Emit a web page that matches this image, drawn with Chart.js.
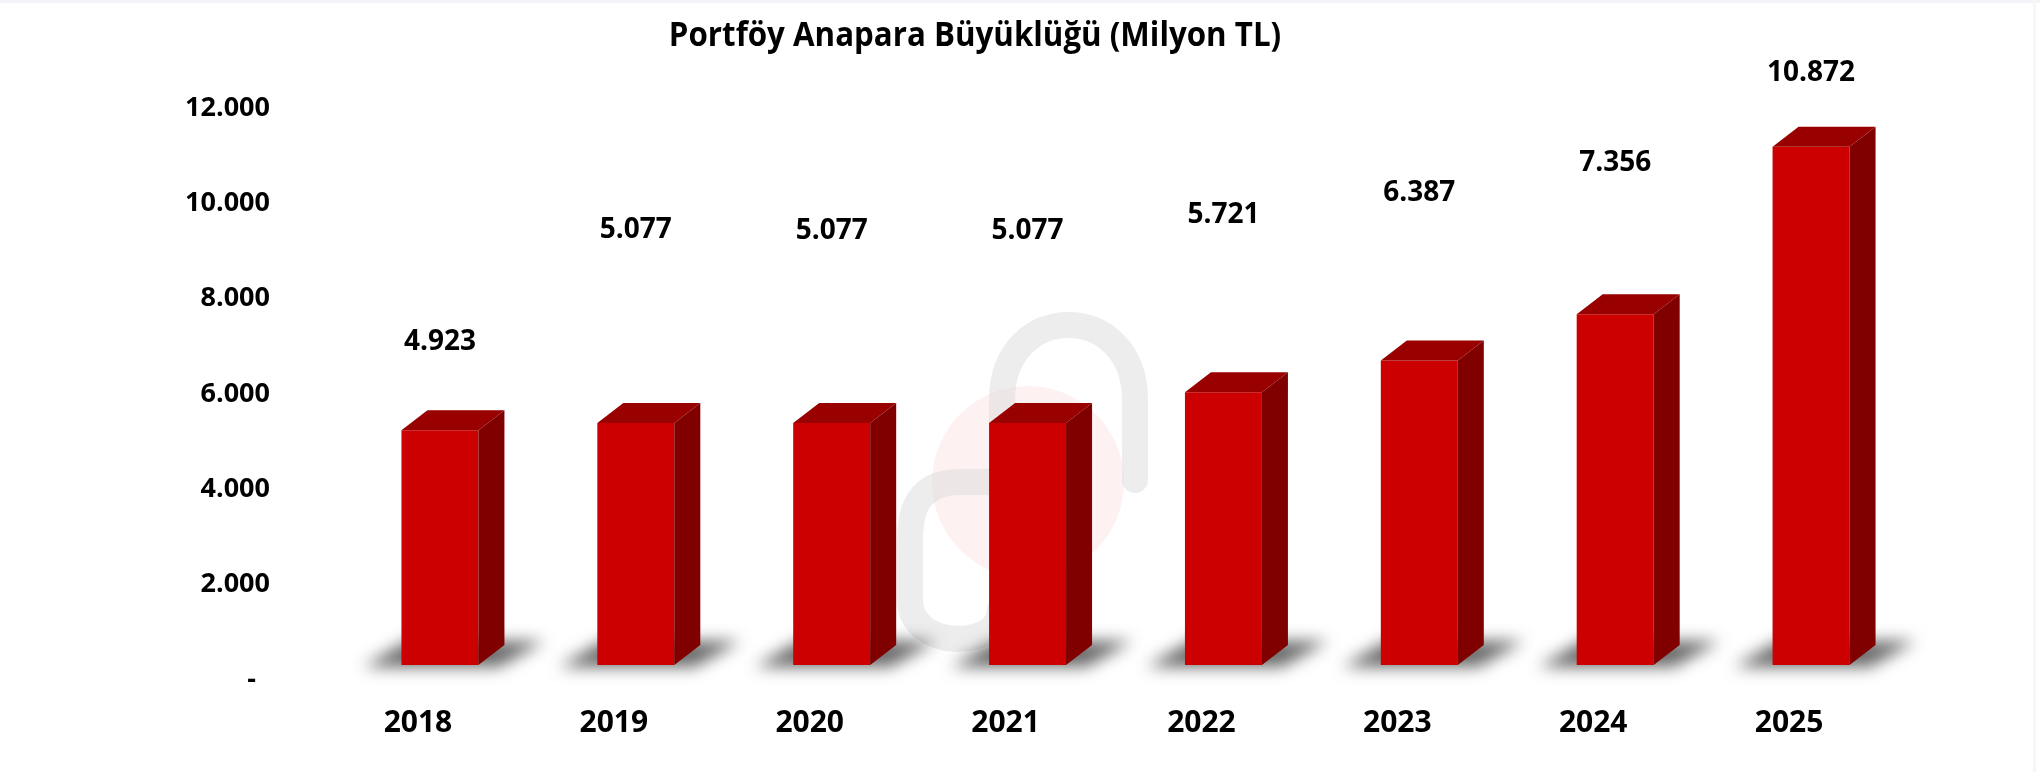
<!DOCTYPE html>
<html>
<head>
<meta charset="utf-8">
<script src="https://cdn.jsdelivr.net/npm/chart.js@4.4.1/dist/chart.umd.min.js"></script>
<style>
    html, body { margin: 0; padding: 0; background: #ffffff; }
    #wrap { position: relative; width: 2040px; height: 772px; }
    #edgeTop { position: absolute; left: 0; top: 0; width: 2040px; height: 3px; background: #f2f4f8; }
    #edgeRight { position: absolute; left: 2033px; top: 0; width: 3px; height: 772px; background: #f4f6f9; }
</style>
</head>
<body>
<div id="wrap">
    <canvas id="principalPlot" width="2040" height="772"></canvas>
    <div id="edgeTop"></div>
    <div id="edgeRight"></div>
</div>
<script>
// Portfolio principal, million TL
var years = ['2018', '2019', '2020', '2021', '2022', '2023', '2024', '2025'];
var principal = [4923, 5077, 5077, 5077, 5721, 6387, 7356, 10872];
var yTicks = [0, 2000, 4000, 6000, 8000, 10000, 12000];
var chartTitle = 'Portföy Anapara Büyüklüğü (Milyon TL)';

var FONT = "'Open Sans', 'Noto Sans', sans-serif";

function dotted(v)
{
    if (v === 0)
        return '-  ';
    return String(v).replace(/\B(?=(\d{3})+(?!\d))/g, '.');
}

// faint logo behind the bars
var watermark = {
    id: 'watermark',
    beforeDatasetsDraw: function(chart) {
        var ctx = chart.ctx;
        ctx.save();
        ctx.fillStyle = 'rgba(225, 60, 60, 0.07)';
        ctx.beginPath();
        ctx.arc(1028, 482, 96, 0, Math.PI * 2);
        ctx.fill();

        ctx.strokeStyle = 'rgba(215, 215, 215, 0.45)';
        ctx.lineWidth = 26;
        ctx.lineCap = 'round';
        ctx.beginPath();
        ctx.moveTo(1002, 510);
        ctx.lineTo(1002, 400);
        ctx.bezierCurveTo(1002, 300, 1135, 300, 1135, 400);
        ctx.lineTo(1135, 480);
        ctx.stroke();

        ctx.beginPath();
        ctx.moveTo(1000, 482);
        ctx.lineTo(960, 482);
        ctx.bezierCurveTo(905, 482, 910, 530, 910, 560);
        ctx.lineTo(910, 600);
        ctx.bezierCurveTo(910, 650, 1000, 650, 1000, 610);
        ctx.stroke();
        ctx.restore();
    }
};

// soft floor shadow + top and side faces of every bar
var bars3d = {
    id: 'bars3d',
    beforeDatasetsDraw: function(chart, args, opts) {
        var ctx = chart.ctx;
        chart.getDatasetMeta(0).data.forEach(function(bar) {
            var p = bar.getProps(['x', 'base', 'width'], true);
            var l = p.x - p.width / 2, r = p.x + p.width / 2;
            ctx.save();
            ctx.filter = 'blur(8px)';
            ctx.fillStyle = 'rgba(40, 40, 40, 0.7)';
            ctx.beginPath();
            ctx.moveTo(l - 38, p.base + 2);
            ctx.lineTo(r + 20, p.base + 2);
            ctx.lineTo(r + opts.dx + 40, p.base - opts.dy - 4);
            ctx.lineTo(l + opts.dx - 20, p.base - opts.dy - 4);
            ctx.closePath();
            ctx.fill();
            ctx.restore();
        });
    },
    afterDatasetsDraw: function(chart, args, opts) {
        var ctx = chart.ctx;
        chart.getDatasetMeta(0).data.forEach(function(bar) {
            var p = bar.getProps(['x', 'y', 'base', 'width'], true);
            var l = p.x - p.width / 2, r = p.x + p.width / 2;
            ctx.save();
            ctx.fillStyle = opts.topColor;
            ctx.beginPath();
            ctx.moveTo(l, p.y);
            ctx.lineTo(l + opts.dx, p.y - opts.dy);
            ctx.lineTo(r + opts.dx, p.y - opts.dy);
            ctx.lineTo(r, p.y);
            ctx.closePath();
            ctx.fill();

            ctx.fillStyle = opts.sideColor;
            ctx.beginPath();
            ctx.moveTo(r, p.y);
            ctx.lineTo(r + opts.dx, p.y - opts.dy);
            ctx.lineTo(r + opts.dx, p.base - opts.dy);
            ctx.lineTo(r, p.base);
            ctx.closePath();
            ctx.fill();
            ctx.restore();
        });
    }
};

// value labels, each at its own height (data units) as in the original
var valueLabels = {
    id: 'valueLabels',
    afterDatasetsDraw: function(chart, args, opts) {
        var ctx = chart.ctx;
        var yScale = chart.scales.y;
        ctx.save();
        ctx.font = 'bold 28px ' + FONT;
        ctx.fillStyle = '#000000';
        ctx.textAlign = 'center';
        ctx.textBaseline = 'middle';
        chart.getDatasetMeta(0).data.forEach(function(bar, i) {
            ctx.fillText(dotted(principal[i]), bar.x, yScale.getPixelForValue(opts.at[i]));
        });
        ctx.restore();
    }
};

var titleText = {
    id: 'titleText',
    afterDraw: function(chart, args, opts) {
        var ctx = chart.ctx;
        ctx.save();
        ctx.font = 'bold 34px ' + FONT;
        ctx.fillStyle = '#000000';
        ctx.textAlign = 'center';
        ctx.textBaseline = 'middle';
        ctx.translate(opts.x, opts.y);
        ctx.scale(0.92, 1);
        ctx.fillText(chartTitle, 0, 0);
        ctx.restore();
    }
};

var principalPlot = new Chart(document.getElementById('principalPlot'), {
    type: 'bar',
    data: {
        labels: years,
        datasets: [{
            data: principal,
            backgroundColor: '#cc0000',
            borderWidth: 0,
            categoryPercentage: 1.0,
            barPercentage: 0.393
        }]
    },
    options: {
        responsive: false,
        animation: false,
        events: [],
        layout: {
            padding: { top: 93, left: 162, right: 131, bottom: 17 }
        },
        plugins: {
            legend: { display: false },
            title: { display: false },
            tooltip: { enabled: false },
            bars3d: { dx: 26, dy: 20, topColor: '#990000', sideColor: '#800000' },
            valueLabels: { at: [6780, 9130, 9100, 9100, 9440, 9900, 10530, 12420] },
            titleText: { x: 975, y: 36 }
        },
        scales: {
            x: {
                grid: { display: false, drawTicks: false },
                border: { display: false },
                ticks: {
                    color: '#000000',
                    font: { family: FONT, size: 30, weight: 'bold' },
                    padding: 40,
                    labelOffset: -22,
                    maxRotation: 0
                },
                afterFit: function(scale) { scale.height = 90; }
            },
            y: {
                min: 0,
                max: 12000,
                grid: { display: false, drawTicks: false },
                border: { display: false },
                afterBuildTicks: function(scale) {
                    scale.ticks = yTicks.map(function(v) { return { value: v }; });
                },
                ticks: {
                    color: '#000000',
                    font: { family: FONT, size: 27, weight: 'bold' },
                    padding: 72,
                    labelOffset: 15,
                    callback: function(v) { return dotted(v); }
                },
                afterFit: function(scale) { scale.width = 180; }
            }
        }
    },
    plugins: [watermark, bars3d, valueLabels, titleText]
});
</script>
</body>
</html>
